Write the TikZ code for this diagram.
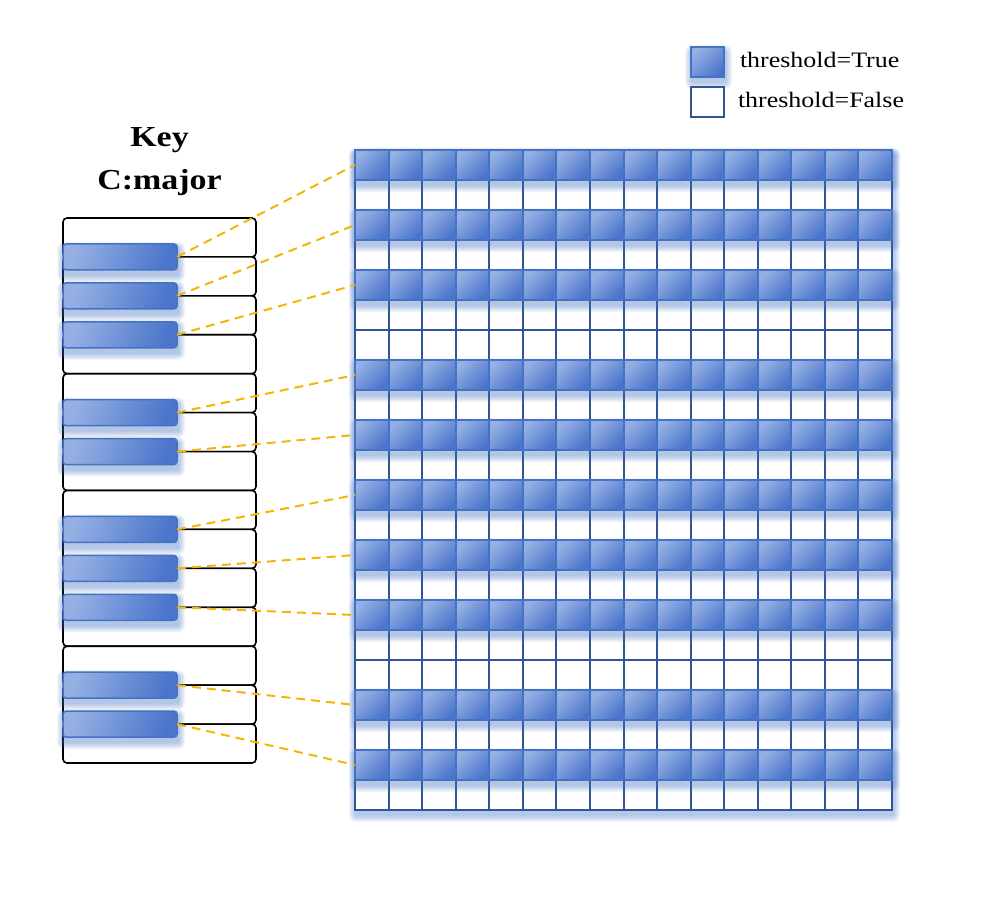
\documentclass[tikz,border=0pt]{standalone}
\usepackage{fontspec}
\setmainfont{Liberation Serif}
\usepackage{graphicx}
\definecolor{bluebord}{HTML}{4472C4}
\definecolor{darkbord}{HTML}{2F5597}
\definecolor{blight}{HTML}{96B0E4}
\definecolor{bdark}{HTML}{4A75CA}
\definecolor{dashc}{HTML}{F2B705}
\definecolor{glowc}{HTML}{4472C4}
\tikzset{
  bcell/.style={draw=bluebord, line width=2pt, top color=blight, bottom color=bdark, shading angle=45, minimum width=33.56pt, minimum height=30pt, inner sep=0pt, outer sep=0pt},
  wcell/.style={draw=darkbord, line width=2pt, fill=white, minimum width=33.56pt, minimum height=30pt, inner sep=0pt, outer sep=0pt},
  wkey/.style={draw=black, line width=1.6pt, fill=white, rounded corners=4pt, minimum width=193pt, minimum height=38.93pt, inner sep=0pt, outer sep=0pt},
  bkey/.style={draw=bluebord, line width=1.5pt, top color=blight, bottom color=bdark, shading angle=70, rounded corners=3pt, minimum width=114pt, minimum height=26pt, inner sep=0pt, outer sep=0pt},
  link/.style={draw=dashc, line width=2pt, dash pattern=on 9pt off 6pt},
  lbl/.style={inner sep=0pt, outer sep=0pt},
}
\newcommand{\myglow}[4]{%
  \pgfmathsetmacro{\gxa}{#1}\pgfmathsetmacro{\gya}{#2}%
  \pgfmathsetmacro{\gxb}{#3}\pgfmathsetmacro{\gyb}{#4}%
  \foreach \i in {1,...,7}{%
    \fill[glowc, opacity=0.065, rounded corners=\i pt] ({\gxa-\i+1},{\gya-\i+5}) rectangle ({\gxb+\i+1},{\gyb+\i+5});
  }%
}
\begin{document}
\begin{tikzpicture}[x=1pt,y=-1pt]
\useasboundingbox (0,0) rectangle (981,896);
% title
\node[lbl, anchor=base] (t1) at (159.5,146.5) {\scalebox{1.17}[1]{\fontsize{29}{34}\selectfont\bfseries Key}};
\node[lbl, anchor=base] (t2) at (159.5,189) {\scalebox{1.17}[1]{\fontsize{29}{34}\selectfont\bfseries C:major}};
% legend
\myglow{691}{47}{724}{77}
\node[bcell, minimum width=33pt] (legT) at (707.5,62) {};
\node[wcell, minimum width=33pt] (legF) at (707.5,102) {};
\node[lbl, anchor=base west] (legTt) at (740,68) {\scalebox{1.18}[1]{\fontsize{22}{26}\selectfont threshold=True}};
\node[lbl, anchor=base west] (legFt) at (738,108) {\scalebox{1.18}[1]{\fontsize{22}{26}\selectfont threshold=False}};
% piano white keys
\foreach \k in {0,...,13}{
  \node[wkey] (w\k) at (159.5,{218+38.93*\k+19.465}) {};
}
% black key glows
\foreach \k in {1,2,3,5,6,8,9,10,12,13}{
  \myglow{63}{218+38.93*\k-13}{177}{218+38.93*\k+13}
}
% black keys
\foreach \k [count=\n] in {1,2,3,5,6,8,9,10,12,13}{
  \node[bkey] (bk\n) at (120,{218+38.93*\k}) {};
}
% grid glow
\myglow{355}{150}{892}{810}
% white rows
\foreach \r in {1,3,5,6,8,10,12,14,16,17,19,21}{
  \foreach \c in {0,...,15}{
    \node[wcell] (c\r-\c) at ({355+33.5625*(\c+0.5)},{150+30*(\r+0.5)}) {};
  }
}
% blue row glows
\foreach \r in {0,2,4,7,9,11,13,15,18,20}{
  \myglow{355}{150+30*\r}{892}{150+30*\r+30}
}
% blue rows
\foreach \r in {0,2,4,7,9,11,13,15,18,20}{
  \foreach \c in {0,...,15}{
    \node[bcell] (c\r-\c) at ({355+33.5625*(\c+0.5)},{150+30*(\r+0.5)}) {};
  }
}
% links
\foreach \n/\r in {1/0,2/2,3/4,4/7,5/9,6/11,7/13,8/15,9/18,10/20}{
  \draw[link] (bk\n.east) -- (c\r-0.west);
}
\end{tikzpicture}
\end{document}
